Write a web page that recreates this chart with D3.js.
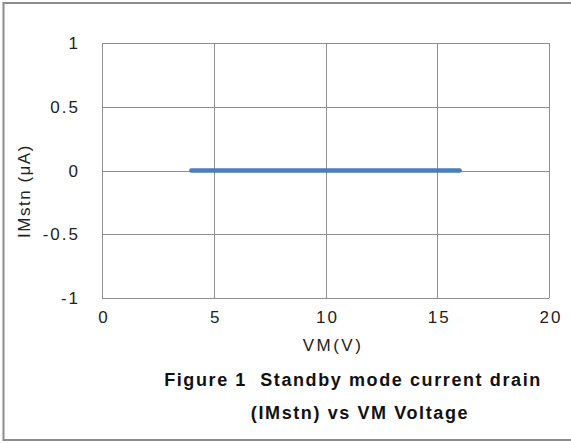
<!DOCTYPE html>
<html>
<head>
<meta charset="utf-8">
<script src="https://cdn.jsdelivr.net/npm/d3@7"></script>
<style>
  body { margin: 0; background: #fff; }
  svg { display: block; }
</style>
</head>
<body>
<div id="chart"></div>
<script>
// --- Data ---
const vmVolts = [4, 6, 8, 10, 12, 14, 16];
const imstnMicroA = [0, 0, 0, 0, 0, 0, 0];
const xTicks = [0, 5, 10, 15, 20];
const yTicks = [1, 0.5, 0, -0.5, -1];

const W = 571, H = 443;
const plot = { left: 102, right: 549, top: 43, bottom: 298 };

const svg = d3.select("#chart").append("svg")
    .attr("width", W)
    .attr("height", H);

// outer frame
svg.append("rect")
    .attr("x", 3.5).attr("y", 3)
    .attr("width", 572).attr("height", 437)
    .attr("fill", "none")
    .attr("stroke", "#8c8c8c")
    .attr("stroke-width", 2);

// --- Scales ---
const x = d3.scaleLinear().domain([0, 20]).range([plot.left, plot.right]);
const y = d3.scaleLinear().domain([-1, 1]).range([plot.bottom, plot.top]);

// grid
svg.append("g")
    .selectAll("line.v")
    .data(xTicks)
    .join("line")
    .attr("x1", d => Math.round(x(d)) + 0.5)
    .attr("x2", d => Math.round(x(d)) + 0.5)
    .attr("y1", plot.top)
    .attr("y2", plot.bottom)
    .attr("stroke", "#8f8f8f");

svg.append("g")
    .selectAll("line.h")
    .data(yTicks)
    .join("line")
    .attr("x1", plot.left)
    .attr("x2", plot.right)
    .attr("y1", d => Math.round(y(d)) + 0.5)
    .attr("y2", d => Math.round(y(d)) + 0.5)
    .attr("stroke", "#8f8f8f");

// tick labels
const tickFont = "'Liberation Sans', Arial, sans-serif";
svg.append("g")
    .selectAll("text")
    .data(yTicks)
    .join("text")
    .attr("x", 80)
    .attr("y", d => y(d) + 6)
    .attr("text-anchor", "end")
    .style("font-family", tickFont)
    .style("font-size", "17px")
    .style("letter-spacing", "2px")
    .attr("fill", "#222")
    .text(d => d);

svg.append("g")
    .selectAll("text")
    .data(xTicks)
    .join("text")
    .attr("x", d => x(d) + 2)
    .attr("y", 323)
    .attr("text-anchor", "middle")
    .style("font-family", tickFont)
    .style("font-size", "17px")
    .style("letter-spacing", "2px")
    .attr("fill", "#222")
    .text(d => d);

// axis titles
svg.append("text")
    .attr("x", 333)
    .attr("y", 351)
    .attr("text-anchor", "middle")
    .style("font-family", tickFont)
    .style("font-size", "17px")
    .style("letter-spacing", "2.5px")
    .attr("fill", "#222")
    .text("VM(V)");

svg.append("text")
    .attr("transform", "translate(30,191) rotate(-90)")
    .attr("text-anchor", "middle")
    .style("font-family", tickFont)
    .style("font-size", "17px")
    .style("letter-spacing", "1.5px")
    .attr("fill", "#222")
    .text("IMstn (μA)");

// series line
const line = d3.line()
    .x((d, i) => x(vmVolts[i]))
    .y(d => y(d));

svg.append("path")
    .datum(imstnMicroA)
    .attr("d", line)
    .attr("fill", "none")
    .attr("stroke", "#4a7ebb")
    .attr("stroke-width", 4.5)
    .attr("stroke-linecap", "round");

// figure caption
const caption = svg.append("text")
    .attr("text-anchor", "middle")
    .style("font-family", tickFont)
    .style("font-size", "18px")
    .style("font-weight", "bold")
    .style("letter-spacing", "1.6px")
    .attr("fill", "#111");
caption.append("tspan").attr("x", 353).attr("y", 386)
    .style("white-space", "pre")
    .text("Figure 1  Standby mode current drain");
caption.append("tspan").attr("x", 360).attr("y", 419)
    .text("(IMstn) vs VM Voltage");
</script>
</body>
</html>
